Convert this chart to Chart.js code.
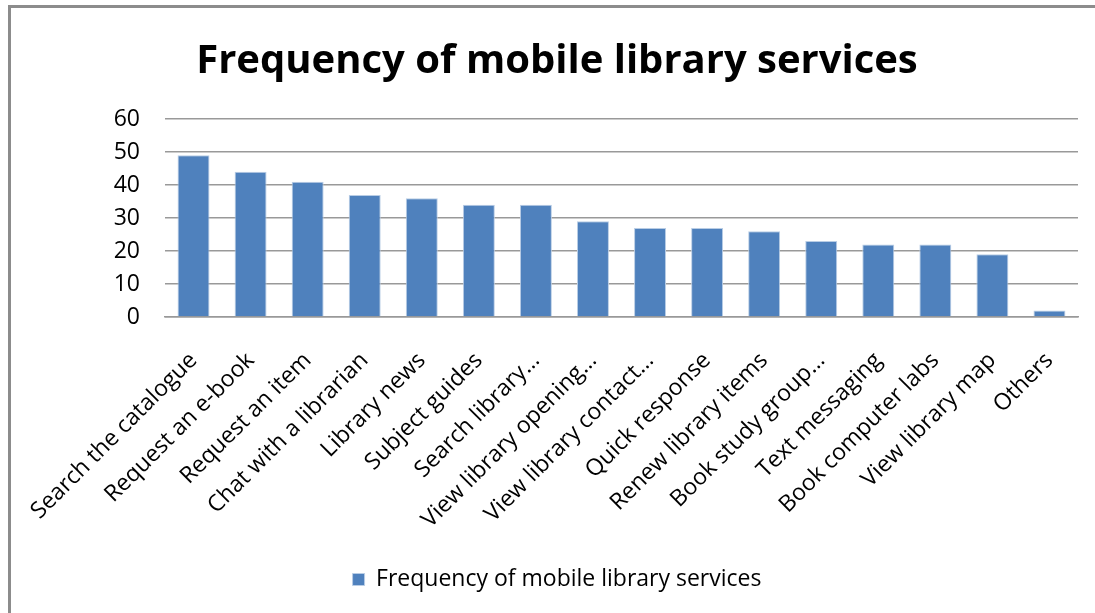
<!DOCTYPE html>
<html>
<head>
<meta charset="utf-8">
<script src="https://cdn.jsdelivr.net/npm/chart.js@4/dist/chart.umd.min.js"></script>
<style>
  html, body { margin: 0; padding: 0; background: #fff; overflow: hidden; }
  #wrap { position: relative; width: 1095px; height: 613px; }
  #frame { position: absolute; left: 8px; top: 5px; width: 1200px; height: 700px;
           border: 3px solid #8c8c8c; pointer-events: none; }
</style>
</head>
<body>
<div id="wrap">
  <canvas id="chart" width="1095" height="613"></canvas>
  <div id="frame"></div>
</div>
<script>
// Chart data
const categories = [
  'Search the catalogue', 'Request an e-book', 'Request an item', 'Chat with a librarian',
  'Library news', 'Subject guides', 'Search library\u2026', 'View library opening\u2026',
  'View library contact\u2026', 'Quick response', 'Renew library items', 'Book study group\u2026',
  'Text messaging', 'Book computer labs', 'View library map', 'Others'
];
const frequency = [49, 44, 41, 37, 36, 34, 34, 29, 27, 27, 26, 23, 22, 22, 19, 2];
const yTicks = [0, 10, 20, 30, 40, 50, 60];
const seriesName = 'Frequency of mobile library services';
const titleText = 'Frequency of mobile library services';

const font = '"Open Sans", Lato, sans-serif';

new Chart(document.getElementById('chart').getContext('2d'), {
  type: 'bar',
  data: {
    labels: categories,
    datasets: [{
      label: seriesName,
      data: frequency,
      backgroundColor: '#4f81bd',
      borderColor: '#b9cde5',
      borderWidth: 1,
      categoryPercentage: 1,
      barPercentage: 0.56
    }]
  },
  options: {
    responsive: false,
    animation: false,
    layout: { padding: { top: 38, left: 36, right: 17, bottom: 12 } },
    scales: {
      x: {
        grid: { display: false },
        border: { display: true, color: '#999', width: 1.5 },
        ticks: {
          autoSkip: false, minRotation: 45, maxRotation: 45, padding: 22,
          color: '#000', font: { family: font, size: 23 }
        },
        afterFit: s => { s.height = 241; }
      },
      y: {
        min: 0, max: 60,
        afterBuildTicks: s => { s.ticks = yTicks.map(v => ({ value: v })); },
        grid: { color: '#999', lineWidth: 1.5, drawTicks: false },
        border: { display: false },
        ticks: {
          padding: 25, color: '#000', font: { family: font, size: 23 }
        },
        afterFit: s => { s.width = 129; }
      }
    },
    plugins: {
      title: {
        display: true, text: titleText, color: '#000',
        font: { family: font, size: 40, weight: 'bold' },
        padding: { top: 0, bottom: 33 }
      },
      legend: {
        position: 'bottom',
        labels: {
          color: '#000', boxWidth: 12, boxHeight: 12, padding: 10,
          font: { family: font, size: 23 }
        }
      },
      tooltip: { enabled: false }
    }
  }
});
</script>
</body>
</html>
